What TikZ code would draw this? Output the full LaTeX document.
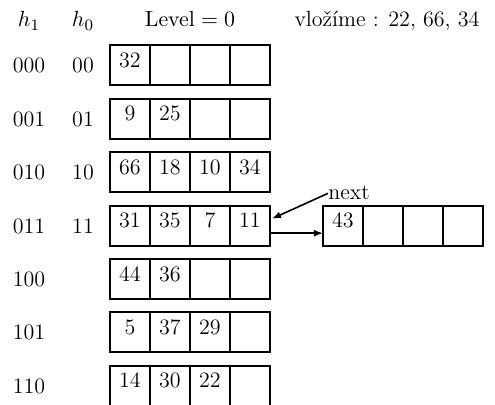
\documentclass[tikz,border=0pt]{standalone}
\usetikzlibrary{arrows.meta,calc}
\begin{document}
\begin{tikzpicture}[x=0.5pt,y=-0.5pt,
  txt/.style={inner sep=0pt,font=\fontsize{11}{13}\selectfont},
  bucket/.style={draw,line width=1pt,minimum width=80pt,minimum height=20pt,
    inner sep=0pt,outer sep=0pt,anchor=north west},
  key/.style={txt,anchor=base},
  lbl/.style={txt,anchor=base},
  ptr/.style={-{Latex[length=4.5pt,width=3.5pt]},line width=0.8pt}]
\useasboundingbox (0,0) rectangle (495,405);
\clip (0,0) rectangle (495,405);

% column headings
\node[lbl] (hh1) at (29,27) {$h_1$};
\node[lbl] (hh0) at (83,27) {$h_0$};
\node[lbl] (lev) at (190,27) {$\mathrm{Level}=0$};
\node[lbl] (ins) at (387,27) {vložíme : 22, 66, 34};

% primary buckets: row / top edge / h1 / h0 / keys
\foreach \r/\t/\ha/\hb/\keys in {
    0/45.5/000/00/{32,,,},
    1/98.9/001/01/{9,25,,},
    2/152.3/010/10/{66,18,10,34},
    3/205.7/011/11/{31,35,7,11},
    4/259.1/100//{44,36,,},
    5/312.5/101//{5,37,29,},
    6/365.9/110//{14,30,22,}} {
  \node[bucket] (b\r) at (110,\t) {};
  \foreach \i in {1,2,3}
    \draw[line width=1pt] ($(b\r.north west)+(40*\i,0)$) -- ($(b\r.south west)+(40*\i,0)$);
  \foreach \k [count=\c] in \keys
    \node[key] (k\r-\c) at (110+40*\c-20,\t+22) {\k};
  \node[lbl] (ha\r) at (29,\t+27.5) {\ha};
  \node[lbl] (hb\r) at (83,\t+27.5) {\hb};
}

% overflow bucket chained to bucket 011
\node[bucket] (ov) at (323,205.7) {};
\foreach \i in {1,2,3}
  \draw[line width=1pt] ($(ov.north west)+(40*\i,0)$) -- ($(ov.south west)+(40*\i,0)$);
\node[key] (ko) at (343,227.7) {43};
\draw[ptr] ($(b3.east)+(0,7.5)$) -- ($(ov.west)+(0,7.5)$);

% split pointer
\node[lbl,anchor=base west] (nx) at (328,200) {next};
\coordinate (nexttip) at ($(b3.north east)+(2,13)$);
\draw[ptr] (nx.west) -- (nexttip);
\end{tikzpicture}
\end{document}
